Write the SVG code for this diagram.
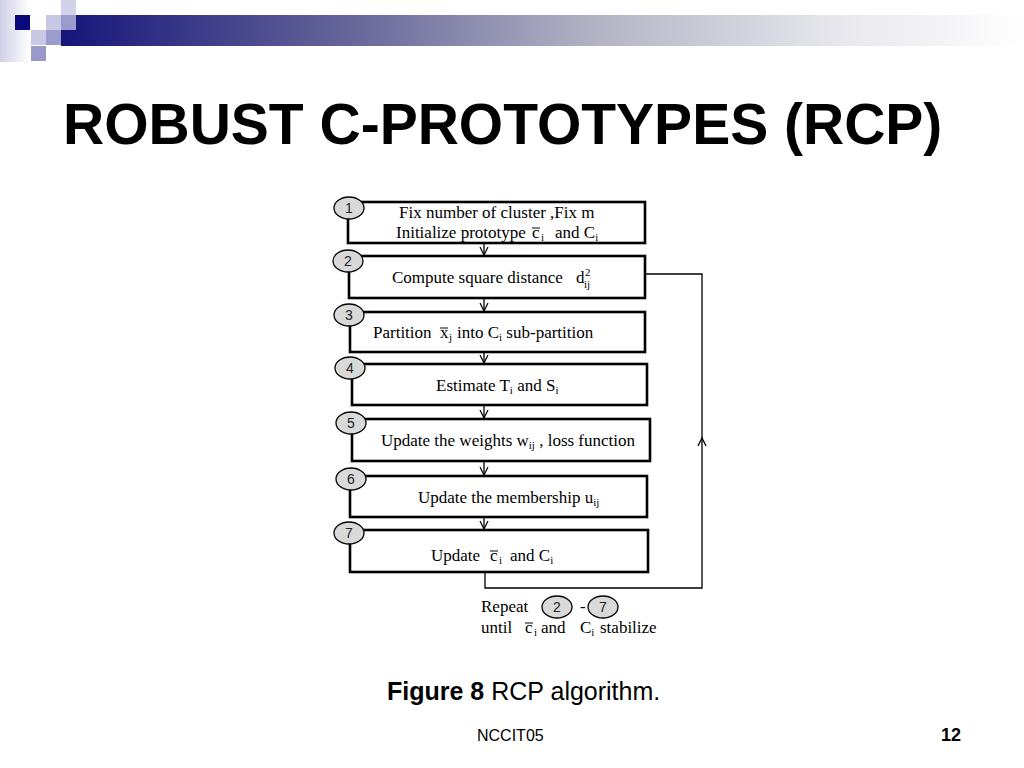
<svg xmlns="http://www.w3.org/2000/svg" width="1024" height="768" viewBox="0 0 1024 768">
<defs>
<linearGradient id="bar" x1="0" y1="0" x2="1" y2="0">
<stop offset="0" stop-color="#15157a"/>
<stop offset="0.3" stop-color="#66669a"/>
<stop offset="0.55" stop-color="#b2b2c4"/>
<stop offset="0.8" stop-color="#e6e6ec"/>
<stop offset="1" stop-color="#ffffff"/>
</linearGradient>
<linearGradient id="fade" x1="0" y1="0" x2="1" y2="0">
<stop offset="0" stop-color="#d0d0e8"/>
<stop offset="1" stop-color="#ffffff"/>
</linearGradient>
<marker id="ah" viewBox="0 0 10 10" markerWidth="10" markerHeight="10" refX="9" refY="5" orient="auto" markerUnits="userSpaceOnUse">
<path d="M1,1 L9,5 L1,9" fill="none" stroke="#000" stroke-width="1.2"/>
</marker>
<style>
.box{fill:#fff;stroke:#000;stroke-width:2.6}
.num{fill:#d9d9d9;stroke:#000;stroke-width:1.3}
.nt{font-family:"Liberation Sans",Arial,sans-serif;font-size:14px;fill:#222;text-anchor:middle}
.t{font-family:"Liberation Serif","Times New Roman",serif;font-size:17px;fill:#000}
.s{font-size:11px}
.bar{stroke:#000;stroke-width:1}
.con{fill:none;stroke:#000;stroke-width:1.3}
.cap{font-family:"Liberation Sans",Arial,sans-serif;fill:#000}
</style>
</defs>
<rect width="1024" height="768" fill="#fff"/>
<g id="header">
<rect x="0" y="0" width="30" height="62" fill="url(#fade)"/>
<rect x="61" y="15" width="963" height="31" fill="url(#bar)"/>
<rect x="15" y="15" width="15" height="15" fill="#0a0a7c"/>
<rect x="46" y="15" width="15" height="15" fill="#c8c8e4"/>
<rect x="61" y="0" width="15" height="15" fill="#d2d2ea"/>
<rect x="61" y="15" width="15" height="15" fill="#9c9ccc"/>
<rect x="31" y="30" width="15" height="15" fill="#c8c8e4"/>
<rect x="46" y="30" width="15" height="15" fill="#9c9ccc"/>
<rect x="31" y="46" width="15" height="15" fill="#9999cc"/>
</g>
<text id="title" x="63" y="144" font-family="'Liberation Sans',Arial,sans-serif" font-size="57" font-weight="bold" fill="#000">ROBUST C-PROTOTYPES (RCP)</text>

<g id="connectors">
<line class="con" x1="484" y1="243" x2="484" y2="255" marker-end="url(#ah)"/>
<line class="con" x1="484" y1="298" x2="484" y2="311" marker-end="url(#ah)"/>
<line class="con" x1="484" y1="352" x2="484" y2="363" marker-end="url(#ah)"/>
<line class="con" x1="484" y1="405" x2="484" y2="418" marker-end="url(#ah)"/>
<line class="con" x1="484" y1="461" x2="484" y2="475" marker-end="url(#ah)"/>
<line class="con" x1="484" y1="517" x2="484" y2="529" marker-end="url(#ah)"/>
<path class="con" d="M645,274 H702 V588 H485 V573"/>
<path class="con" d="M698,446 L702,438 L706,446"/>
</g>

<g id="node1">
<rect class="box" x="348" y="202" width="297" height="41"/>
<ellipse class="num" cx="349" cy="208" rx="15" ry="11"/>
<text class="nt" x="349" y="213">1</text>
<text class="t" x="399" y="218">Fix number of cluster ,Fix m</text>
<text class="t" x="396" y="238">Initialize prototype <tspan x="532">c</tspan><tspan class="s" x="541" dy="3">i</tspan><tspan x="555" dy="-3">and C</tspan><tspan class="s" dy="3">i</tspan></text>
<line class="bar" x1="532" y1="228" x2="540" y2="228"/>
</g>
<g id="node2">
<rect class="box" x="349" y="256" width="296" height="42"/>
<ellipse class="num" cx="348" cy="261" rx="15" ry="11"/>
<text class="nt" x="348" y="266">2</text>
<text class="t" x="392" y="283">Compute  square distance <tspan x="576">d</tspan></text>
<text class="t s" x="585" y="276">2</text>
<text class="t s" x="584" y="288">ij</text>
</g>
<g id="node3">
<rect class="box" x="350" y="312" width="295" height="40"/>
<ellipse class="num" cx="349" cy="315" rx="15" ry="11"/>
<text class="nt" x="349" y="320">3</text>
<text class="t" x="373" y="338">Partition <tspan x="440">x</tspan><tspan class="s" x="449" dy="3">j</tspan><tspan x="457" dy="-3">into C</tspan><tspan class="s" dy="3">i</tspan><tspan dy="-3"> sub-partition</tspan></text>
<line class="bar" x1="440" y1="328" x2="448" y2="328"/>
</g>
<g id="node4">
<rect class="box" x="352" y="364" width="295" height="41"/>
<ellipse class="num" cx="350" cy="368" rx="15" ry="11"/>
<text class="nt" x="350" y="373">4</text>
<text class="t" x="436" y="391">Estimate T<tspan class="s" dy="3">i</tspan><tspan dy="-3"> and S</tspan><tspan class="s" dy="3">i</tspan></text>
</g>
<g id="node5">
<rect class="box" x="352" y="419" width="298" height="42"/>
<ellipse class="num" cx="351" cy="423" rx="15" ry="11"/>
<text class="nt" x="351" y="428">5</text>
<text class="t" x="381" y="446">Update the weights w<tspan class="s" dy="3">ij</tspan><tspan dy="-3"> , loss function</tspan></text>
</g>
<g id="node6">
<rect class="box" x="350" y="476" width="297" height="41"/>
<ellipse class="num" cx="351" cy="479" rx="15" ry="11"/>
<text class="nt" x="351" y="484">6</text>
<text class="t" x="418" y="503">Update the membership u<tspan class="s" dy="3">ij</tspan></text>
</g>
<g id="node7">
<rect class="box" x="350" y="530" width="298" height="42"/>
<ellipse class="num" cx="349" cy="533" rx="15" ry="11"/>
<text class="nt" x="349" y="538">7</text>
<text class="t" x="431" y="561">Update <tspan x="490">c</tspan><tspan class="s" x="499" dy="3">i</tspan><tspan x="510" dy="-3">and  C</tspan><tspan class="s" dy="3">i</tspan></text>
<line class="bar" x1="490" y1="551" x2="498" y2="551"/>
</g>
<g id="repeat-note">
<text class="t" x="481" y="612">Repeat</text>
<ellipse class="num" cx="557" cy="607" rx="15" ry="11"/>
<text class="nt" x="557" y="612">2</text>
<text class="t" x="580" y="612">-</text>
<ellipse class="num" cx="603" cy="607" rx="15" ry="11"/>
<text class="nt" x="603" y="612">7</text>
<text class="t" x="481" y="633">until <tspan x="525">c</tspan><tspan class="s" x="534" dy="3">i</tspan><tspan x="541" dy="-3">and</tspan><tspan x="580">C</tspan><tspan class="s" dy="3">i</tspan><tspan x="600" dy="-3">stabilize</tspan></text>
<line class="bar" x1="525" y1="623" x2="533" y2="623"/>
</g>

<text id="caption" class="cap" x="387" y="700" font-size="25"><tspan font-weight="bold">Figure 8</tspan> RCP algorithm.</text>
<text id="footer" class="cap" x="477" y="741" font-size="16">NCCIT05</text>
<text id="page" class="cap" x="961" y="741" font-size="18" font-weight="bold" text-anchor="end">12</text>
</svg>
